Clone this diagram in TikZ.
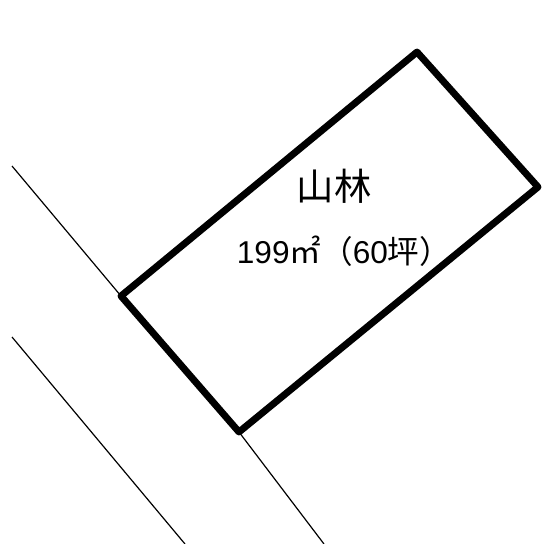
\documentclass[tikz,border=0pt]{standalone}
\usepackage{fontspec}
\setmainfont{Liberation Sans}
\newfontfamily\cjk{Noto Sans CJK JP}
\tikzset{lot/.style={line width=5.2pt,line join=round,line cap=round},thinl/.style={line width=0.9pt},lab/.style={inner sep=0pt,font=\cjk,text=black}}
\begin{document}
\begin{tikzpicture}[x=0.75pt,y=-0.75pt]
\useasboundingbox (0,0) rectangle (542,544);
\coordinate (a) at (417,52);
\coordinate (b) at (538,187);
\coordinate (c) at (239,432);
\coordinate (d) at (121,296);
\coordinate (e) at (12,166);
\coordinate (f) at (324,544);
\coordinate (g) at (12,337);
\coordinate (h) at (185,544);
\draw[thinl] (e) -- (d);
\draw[thinl] (c) -- (f);
\draw[thinl] (g) -- (h);
\draw[lot] (a) -- (b) -- (c) -- (d) -- cycle;
\node[lab,font=\cjk\fontsize{28pt}{30pt}\selectfont] (t1) at (334,186) {山林};
\node[lab,font=\fontsize{23.7pt}{26pt}\selectfont] (t2) at (344,251.5) {199{\cjk ㎡}{\cjk （}60{\cjk 坪）}};
\end{tikzpicture}
\end{document}
